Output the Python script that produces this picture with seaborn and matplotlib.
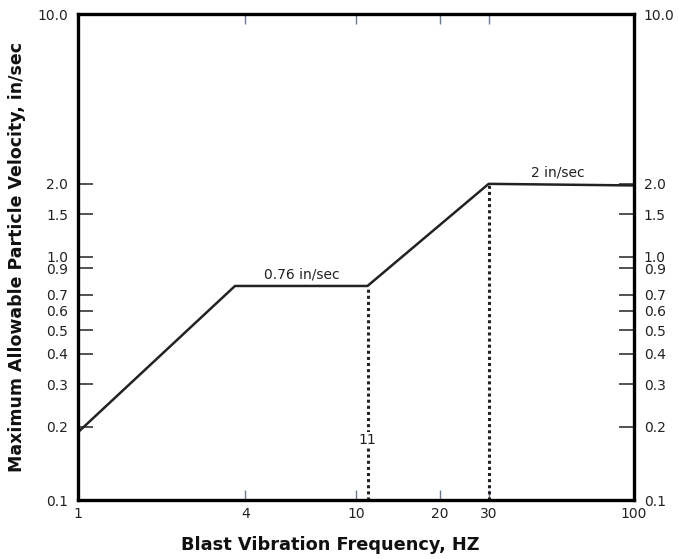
import matplotlib
matplotlib.use("Agg")
import matplotlib.pyplot as plt
import seaborn as sns
import pandas as pd
from matplotlib.ticker import FixedLocator, FixedFormatter, NullLocator

# ---- data ----
freq_hz = [1, 3.67, 11, 30, 100]
velocity_in_s = [0.19, 0.76, 0.76, 2.0, 1.97]
marker_freqs = [11, 30]
marker_tops = [0.76, 2.0]
x_ticks = [1, 4, 10, 20, 30, 100]
x_tick_labels = ["1", "4", "10", "20", "30", "100"]
y_ticks = [0.1, 0.2, 0.3, 0.4, 0.5, 0.6, 0.7, 0.9, 1.0, 1.5, 2.0, 10.0]
y_tick_labels = ["0.1", "0.2", "0.3", "0.4", "0.5", "0.6", "0.7", "0.9", "1.0", "1.5", "2.0", "10.0"]
annotations = [("0.76 in/sec", 6.4, 0.795), ("2 in/sec", 53, 2.08), ("11", 11, 0.177)]

sns.set_theme(style="white")
plt.rcParams["font.family"] = ["DejaVu Sans"]

fig = plt.figure(figsize=(6.79, 5.59), dpi=100)
ax = fig.add_axes([78 / 679, 59 / 559, 556 / 679, 486 / 559])

df = pd.DataFrame({"freq": freq_hz, "vel": velocity_in_s})
sns.lineplot(data=df, x="freq", y="vel", ax=ax, color="#222222", linewidth=1.8,
             sort=False, estimator=None)

for fx, top in zip(marker_freqs, marker_tops):
    d = pd.DataFrame({"freq": [fx, fx], "vel": [0.1, top]})
    sns.lineplot(data=d, x="freq", y="vel", ax=ax, color="#222222", linewidth=2.2,
                 linestyle=(0, (1.0, 1.0)), sort=False, estimator=None)

ax.set_xscale("log")
ax.set_yscale("log")
ax.set_xlim(1, 100)
ax.set_ylim(0.1, 10)

ax.xaxis.set_major_locator(FixedLocator(x_ticks))
ax.xaxis.set_major_formatter(FixedFormatter(x_tick_labels))
ax.xaxis.set_minor_locator(NullLocator())
ax.yaxis.set_major_locator(FixedLocator(y_ticks))
ax.yaxis.set_major_formatter(FixedFormatter(y_tick_labels))
ax.yaxis.set_minor_locator(NullLocator())

ax.tick_params(axis="y", which="major", direction="in", left=True, right=True,
               labelleft=True, labelright=True, length=11, width=1.3,
               color="#444444", labelsize=10, labelcolor="#222222", pad=7)
ax.tick_params(axis="x", which="major", direction="in", bottom=True, top=True,
               length=7.5, width=1.0, color="#6a7a90", labelsize=10,
               labelcolor="#222222", pad=5)

for sp in ax.spines.values():
    sp.set_color("black")
    sp.set_linewidth(2.4)

for txt, x, y in annotations:
    ax.text(x, y, txt, ha="center", va="bottom" if txt != "11" else "center",
            fontsize=10, color="#222222",
            bbox=dict(facecolor="white", edgecolor="none", pad=0.5) if txt == "11" else None)

ax.set_xlabel("Blast Vibration Frequency, HZ", fontsize=12.8, fontweight="bold",
              color="#111111")
ax.xaxis.set_label_coords(0.453, -0.074)
ax.set_ylabel("Maximum Allowable Particle Velocity, in/sec", fontsize=12.5,
              fontweight="bold", color="#111111", labelpad=8)

fig.savefig("out.png", dpi=100)
